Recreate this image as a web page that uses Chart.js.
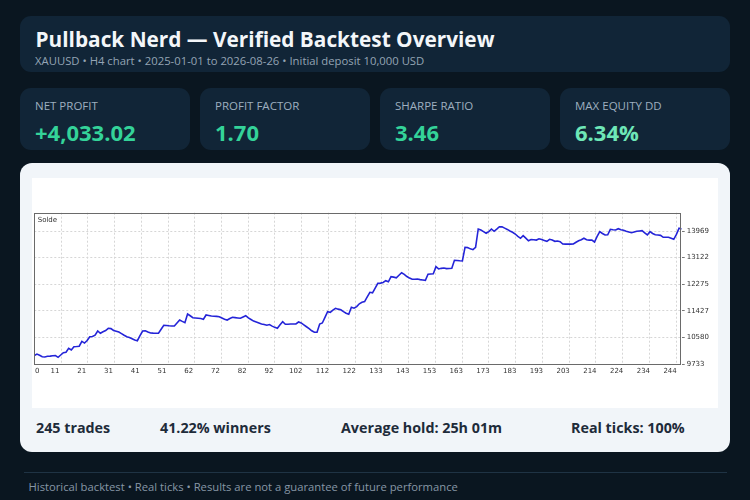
<!DOCTYPE html>
<html>
<head>
<meta charset="utf-8">
<script src="https://cdn.jsdelivr.net/npm/chart.js@4.4.1/dist/chart.umd.min.js"></script>
<style>
  html,body{margin:0;padding:0;}
  body{width:750px;height:500px;background:#0a1620;overflow:hidden;position:relative;font-family:"Open Sans",sans-serif;}
  .abs{position:absolute;white-space:nowrap;line-height:normal;}
  .card{position:absolute;background:#112537;border-radius:11px;}
  .klabel{font-size:11.5px;color:#9eafbf;}
  .kval{font-size:22px;font-weight:700;color:#34d399;}
  .stat{font-size:14.3px;font-weight:700;color:#1e2b3a;}
</style>
</head>
<body>
<div class="card" style="left:20px;top:16px;width:710px;height:56px;"></div>
<div class="abs" style="left:35.5px;top:25.1px;font-size:20.8px;font-weight:700;color:#f3f6f9;">Pullback Nerd — Verified Backtest Overview</div>
<div class="abs" style="left:35px;top:52.6px;font-size:11.3px;color:#94a4b4;">XAUUSD • H4 chart • 2025-01-01 to 2026-08-26 • Initial deposit 10,000 USD</div>

<div class="card" style="left:20px;top:88px;width:170px;height:62px;"></div>
<div class="card" style="left:200px;top:88px;width:170px;height:62px;"></div>
<div class="card" style="left:380px;top:88px;width:170px;height:62px;"></div>
<div class="card" style="left:560px;top:88px;width:170px;height:62px;"></div>
<div class="abs klabel" style="left:35px;top:98.4px;">NET PROFIT</div>
<div class="abs klabel" style="left:215px;top:98.4px;">PROFIT FACTOR</div>
<div class="abs klabel" style="left:395px;top:98.4px;">SHARPE RATIO</div>
<div class="abs klabel" style="left:575px;top:98.4px;">MAX EQUITY DD</div>
<div class="abs kval" style="left:35px;top:116.5px;">+4,033.02</div>
<div class="abs kval" style="left:215px;top:116.5px;">1.70</div>
<div class="abs kval" style="left:395px;top:116.5px;">3.46</div>
<div class="abs kval" style="left:575px;top:116.5px;color:#6ee7b7;">6.34%</div>

<div style="position:absolute;left:20px;top:163px;width:710px;height:289px;background:#f1f5f9;border-radius:12px;"></div>
<div style="position:absolute;left:32px;top:178px;width:686px;height:230px;background:#ffffff;">
  <canvas id="c" width="686" height="230"></canvas>
</div>
<div class="abs" style="left:37.7px;top:216.2px;font-family:'DejaVu Sans';font-size:7px;color:#333;">Solde</div>

<div class="abs stat" style="left:36px;top:418px;">245 trades</div>
<div class="abs stat" style="left:160px;top:418px;">41.22% winners</div>
<div class="abs stat" style="left:341px;top:418px;">Average hold: 25h 01m</div>
<div class="abs stat" style="left:571px;top:418px;">Real ticks: 100%</div>

<div style="position:absolute;left:24px;top:472px;width:703px;height:1px;background:#1f3344;"></div>
<div class="abs" style="left:28.5px;top:479px;font-size:11.25px;color:#8796a6;">Historical backtest • Real ticks • Results are not a guarantee of future performance</div>

<script>
// Balance after each trade (index 0 = initial deposit)
const balance = [
10000,10050,10010,9965,9956,9980,9985,9995,10000,9946,
10020,10093,10110,10233,10180,10284,10290,10300,10456,10400,
10480,10603,10610,10650,10784,10711,10760,10800,10870,10860,
10800,10774,10750,10700,10650,10603,10580,10540,10500,10475,
10640,10784,10790,10750,10720,10715,10712,10711,10840,10966,
10960,10950,10945,10943,11040,11134,11090,11049,11326,11270,
11208,11200,11190,11180,11157,11294,11280,11260,11255,11250,
11240,11200,11160,11134,11180,11220,11210,11200,11190,11230,
11271,11200,11150,11100,11071,11040,11010,10990,10966,10990,
10940,10900,10870,10980,11080,11000,11000,11005,11005,11010,
11071,11040,10980,10920,10860,10790,10743,10743,11007,11040,
11220,11399,11380,11450,11507,11480,11460,11400,11350,11316,
11539,11510,11560,11650,11698,11720,11870,12017,12000,12150,
12303,12310,12330,12386,12350,12514,12500,12480,12560,12641,
12590,12520,12470,12431,12430,12440,12420,12410,12399,12590,
12600,12610,12832,12760,12780,12790,12770,12775,12780,13036,
13030,13020,13014,13450,13440,13400,13374,13450,14033,14000,
13950,13896,13950,14033,13960,14030,14106,14100,14060,14020,
13970,13928,13873,13800,13737,13820,13740,13660,13700,13690,
13680,13720,13700,13670,13640,13704,13680,13640,13650,13630,
13555,13550,13555,13550,13555,13610,13660,13690,13737,13690,
13680,13680,13619,13800,13947,13890,13842,13850,14023,14010,
14000,14042,14010,13990,13960,13940,13915,13940,13960,13970,
13979,13910,13842,13947,13890,13850,13840,13830,13768,13770,
13768,13740,13704,13860,14055,14033
];
const xTickLabels = ["0","11","21","31","41","51","62","72","82","92","102","112","122","133","143","153","163","173","183","193","203","214","224","234","244"];
const yTickValues = [9733,10580,11427,12275,13122,13969];
const seriesLabel = "Solde";

const points = balance.map((v, i) => ({x: i, y: v}));
const lastTrade = balance.length - 1;
const gridStep = 10.12;

const frame = {
  id: 'frame',
  afterDatasetsDraw(chart) {
    const a = chart.chartArea, ctx = chart.ctx;
    ctx.save();
    ctx.strokeStyle = '#6a6a6a';
    ctx.lineWidth = 1;
    ctx.strokeRect(Math.round(a.left) + 0.5, Math.round(a.top) + 0.5, Math.round(a.right - a.left) - 1, Math.round(a.bottom - a.top));
    ctx.restore();
  }
};

new Chart(document.getElementById('c'), {
  type: 'line',
  data: {
    datasets: [{
      label: seriesLabel,
      data: points,
      borderColor: '#2424d8',
      borderWidth: 1.6,
      pointRadius: 0,
      tension: 0,
      fill: false
    }]
  },
  options: {
    responsive: false,
    animation: false,
    layout: {padding: {left: 2.3, top: 34.7, right: 0, bottom: 28}},
    plugins: {legend: {display: false}, tooltip: {enabled: false}},
    scales: {
      x: {
        type: 'linear',
        min: 0,
        max: lastTrade,
        afterBuildTicks: s => { s.ticks = xTickLabels.map((t, k) => ({value: k === 0 ? 3.4 : k * gridStep})); },
        afterFit: s => { s.height = 16; },
        ticks: {
          autoSkip: false,
          maxRotation: 0,
          padding: 3,
          labelOffset: -6,
          color: '#333',
          font: {family: 'DejaVu Sans', size: 7},
          callback: (v, k) => xTickLabels[k]
        },
        grid: {
          drawTicks: false,
          color: c => c.index === 0 ? 'rgba(0,0,0,0)' : '#d6d6d6',
          lineWidth: 1
        },
        border: {display: false, dash: [2, 2]}
      },
      y: {
        position: 'right',
        min: 9733,
        max: 14552,
        afterBuildTicks: s => { s.ticks = yTickValues.map(v => ({value: v})); },
        afterFit: s => { s.width = 36.3; },
        ticks: {
          padding: 2,
          color: '#333',
          font: {family: 'DejaVu Sans', size: 7},
          callback: v => String(v)
        },
        grid: {
          color: '#d6d6d6',
          tickColor: '#777',
          tickLength: 3,
          lineWidth: 1
        },
        border: {display: false, dash: [2, 2]}
      }
    }
  },
  plugins: [frame]
});
</script>
</body>
</html>
